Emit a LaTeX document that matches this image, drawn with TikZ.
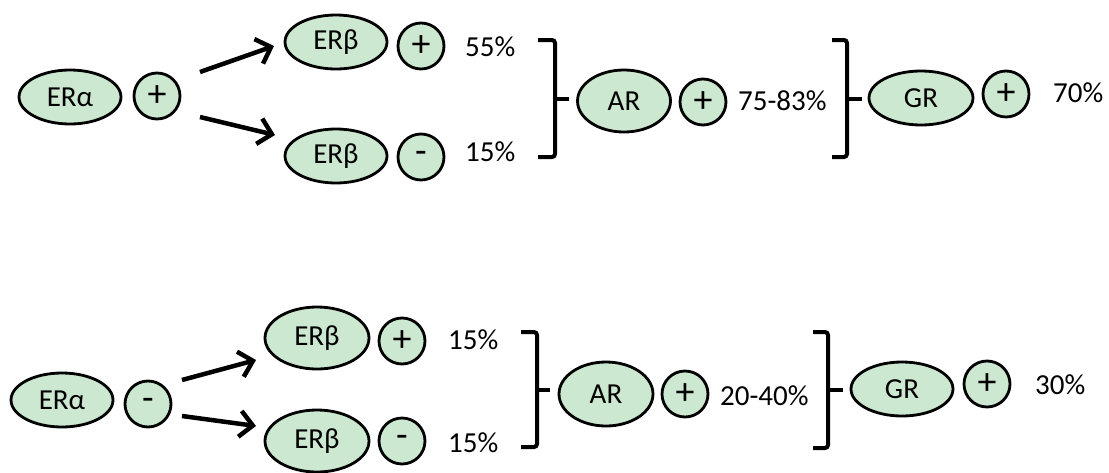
\documentclass[tikz,border=0pt]{standalone}
\usepackage{fontspec}
\setmainfont{Carlito}
\usetikzlibrary{shapes.geometric,arrows.meta}
\definecolor{mint}{RGB}{205,232,208}
\begin{document}
\begin{tikzpicture}[x=1pt,y=-1pt,
  rec/.style={ellipse,draw=black,line width=2.8pt,fill=mint,inner sep=0pt,
    minimum width=102pt,minimum height=54pt,font=\fontsize{29}{32}\selectfont},
  sign/.style={circle,draw=black,line width=2.8pt,fill=mint,inner sep=0pt,
    minimum size=46pt,font=\fontsize{38}{38}\selectfont},
  pct/.style={anchor=west,inner sep=0pt,font=\fontsize{29}{32}\selectfont},
  arr/.style={line width=4.5pt,-{Straight Barb[length=13pt,width=26pt]}},
  brk/.style={line width=4pt,rounded corners=3pt}]
\useasboundingbox (0,0) rectangle (1109,472);

% ---------- upper chain: ERalpha positive ----------
\node[rec] (ea1) at (70,97) {ERα};
\node[sign] (sa1) at (157,96) {+};
\node[rec] (eb1) at (336,42) {ERβ};
\node[sign] (sb1) at (421,46) {+};
\node[pct] (p1) at (465,47) {55\%};
\node[rec] (eb2) at (336,156) {ERβ};
\node[sign] (sb2) at (421,157) {-};
\node[pct] (p2) at (465,152) {15\%};

\coordinate (u1s) at (200,72);  \coordinate (u1e) at (274,46);
\coordinate (u2s) at (200,117); \coordinate (u2e) at (275,135);
\draw[arr] (u1s) -- (u1e);
\draw[arr] (u2s) -- (u2e);

\draw[brk] (538,40) -- (555,40) -- (555,157) -- (538,157);
\coordinate (k1) at (569,99);
\draw[brk] (555,99) -- (k1);

\node[rec,minimum width=93pt,minimum height=62pt] (ar1) at (624,101) {AR};
\node[sign] (sr1) at (703,102) {+};
\node[pct] (p3) at (738,101) {75-83\%};

\draw[brk] (832,40) -- (847,40) -- (847,157) -- (832,157);
\coordinate (k2) at (862,99);
\draw[brk] (847,99) -- (k2);

\node[rec,minimum width=104pt] (gr1) at (921,98) {GR};
\node[sign] (sg1) at (1006,94) {+};
\node[pct] (p4) at (1053,93) {70\%};

% ---------- lower chain: ERalpha negative ----------
\node[rec] (ea2) at (62,400) {ERα};
\node[sign] (sa2) at (148,404) {-};
\node[rec,minimum width=104pt,minimum height=62pt] (eb3) at (317,338) {ERβ};
\node[sign] (sb3) at (402,341) {+};
\node[pct] (p5) at (448,340) {15\%};
\node[rec,minimum width=104pt,minimum height=62pt] (eb4) at (317,441) {ERβ};
\node[sign] (sb4) at (402,441) {-};
\node[pct] (p6) at (448,443) {15\%};

\coordinate (l1s) at (182,380); \coordinate (l1e) at (256,360);
\coordinate (l2s) at (182,416); \coordinate (l2e) at (256,426);
\draw[arr] (l1s) -- (l1e);
\draw[arr] (l2s) -- (l2e);

\draw[brk] (521,332) -- (537,332) -- (537,447) -- (521,447);
\coordinate (k3) at (550,390);
\draw[brk] (537,390) -- (k3);

\node[rec,minimum width=94pt,minimum height=64pt] (ar2) at (606,394) {AR};
\node[sign] (sr2) at (685,394) {+};
\node[pct] (p7) at (720,396) {20-40\%};

\draw[brk] (813,332) -- (828,332) -- (828,448) -- (813,448);
\coordinate (k4) at (843,390);
\draw[brk] (828,390) -- (k4);

\node[rec] (gr2) at (902,389) {GR};
\node[sign] (sg2) at (987,384) {+};
\node[pct] (p8) at (1035,385) {30\%};
\end{tikzpicture}
\end{document}
